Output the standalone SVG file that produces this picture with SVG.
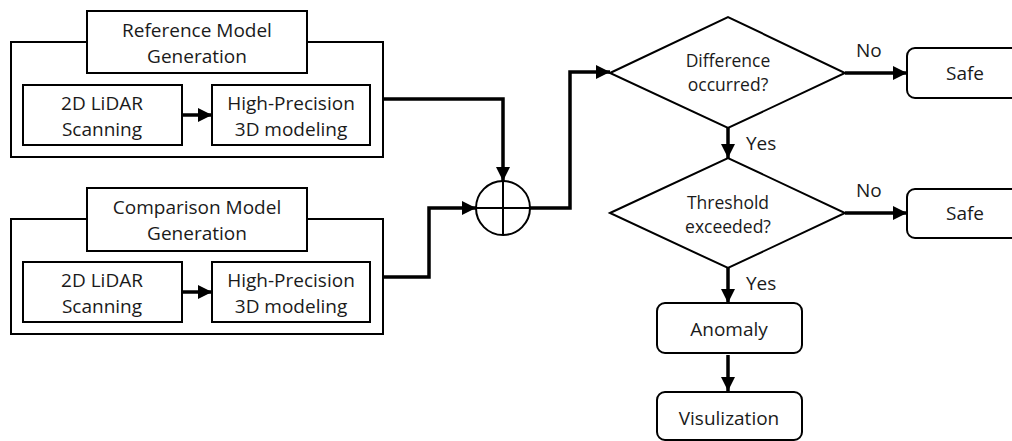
<svg xmlns="http://www.w3.org/2000/svg" width="1012" height="441" viewBox="0 0 1012 441">
<style>
.b{fill:#fff;stroke:#000;stroke-width:2}
.t{font-family:"Open Sans","Noto Sans",sans-serif;font-size:19px;fill:#1a1a1a;text-anchor:middle}
.d{font-size:17.5px}
.l{font-family:"Open Sans","Noto Sans",sans-serif;font-size:19px;fill:#1a1a1a}
.c{fill:none;stroke:#000;stroke-width:3.5}
</style>
<defs>
<marker id="a" viewBox="0 0 10 10" refX="10" refY="5" markerWidth="4" markerHeight="4" markerUnits="strokeWidth" orient="auto">
<path d="M0,0L10,5L0,10Z" fill="#000"/>
</marker>
</defs>
<rect width="1012" height="441" fill="#fff"/>
<g id="ref-group">
<rect class="b" x="11" y="42" width="372" height="115"/>
<rect class="b" x="87" y="11" width="220" height="62"/>
<text class="t" x="197" y="37">Reference Model</text>
<text class="t" x="197" y="63">Generation</text>
</g>
<g id="ref-lidar">
<rect class="b" x="23" y="85" width="159" height="60"/>
<text class="t" x="102" y="110">2D LiDAR</text>
<text class="t" x="102" y="136">Scanning</text>
</g>
<g id="ref-model">
<rect class="b" x="212" y="85" width="158" height="60"/>
<text class="t" x="291" y="110">High-Precision</text>
<text class="t" x="291" y="136">3D modeling</text>
</g>
<g id="cmp-group">
<rect class="b" x="11" y="219" width="372" height="115"/>
<rect class="b" x="87" y="188" width="220" height="63"/>
<text class="t" x="197" y="214">Comparison Model</text>
<text class="t" x="197" y="240">Generation</text>
</g>
<g id="cmp-lidar">
<rect class="b" x="23" y="262" width="159" height="60"/>
<text class="t" x="102" y="287">2D LiDAR</text>
<text class="t" x="102" y="313">Scanning</text>
</g>
<g id="cmp-model">
<rect class="b" x="212" y="262" width="158" height="60"/>
<text class="t" x="291" y="287">High-Precision</text>
<text class="t" x="291" y="313">3D modeling</text>
</g>
<g id="sum">
<circle class="b" cx="503" cy="208" r="27"/>
<path d="M476,208H530M503,181V235" stroke="#000" stroke-width="2"/>
</g>
<g id="diff">
<polygon class="b" points="610,73 728,17 845,73 728,128"/>
<text class="t d" x="728" y="67">Difference</text>
<text class="t d" x="728" y="91">occurred?</text>
</g>
<g id="thresh">
<polygon class="b" points="610,213 728,158 845,213 728,268"/>
<text class="t d" x="728" y="209">Threshold</text>
<text class="t d" x="728" y="233">exceeded?</text>
</g>
<g id="safe1">
<rect class="b" x="907" y="48" width="115" height="50" rx="8"/>
<text class="t" x="965" y="80">Safe</text>
</g>
<g id="safe2">
<rect class="b" x="907" y="189" width="115" height="49" rx="8"/>
<text class="t" x="965" y="220">Safe</text>
</g>
<g id="anomaly">
<rect class="b" x="657" y="303" width="145" height="50" rx="8"/>
<text class="t" x="729" y="336">Anomaly</text>
</g>
<g id="vis">
<rect class="b" x="657" y="392" width="145" height="48" rx="8"/>
<text class="t" x="729" y="425">Visulization</text>
</g>
<g id="connectors">
<line class="c" x1="182" y1="115" x2="212" y2="115" marker-end="url(#a)"/>
<line class="c" x1="182" y1="292" x2="212" y2="292" marker-end="url(#a)"/>
<polyline class="c" points="383,99 503,99 503,181" marker-end="url(#a)"/>
<polyline class="c" points="383,277 429,277 429,208 476,208" marker-end="url(#a)"/>
<polyline class="c" points="530,208 570,208 570,72 610,72" marker-end="url(#a)"/>
<line class="c" x1="845" y1="73" x2="907" y2="73" marker-end="url(#a)"/>
<line class="c" x1="845" y1="213" x2="907" y2="213" marker-end="url(#a)"/>
<line class="c" x1="728" y1="128" x2="728" y2="158" marker-end="url(#a)"/>
<line class="c" x1="728" y1="268" x2="728" y2="303" marker-end="url(#a)"/>
<line class="c" x1="728" y1="355" x2="728" y2="391" marker-end="url(#a)"/>
<text class="l" x="856" y="57">No</text>
<text class="l" x="856" y="197">No</text>
<text class="l" x="746" y="150">Yes</text>
<text class="l" x="746" y="290">Yes</text>
</g>
</svg>
